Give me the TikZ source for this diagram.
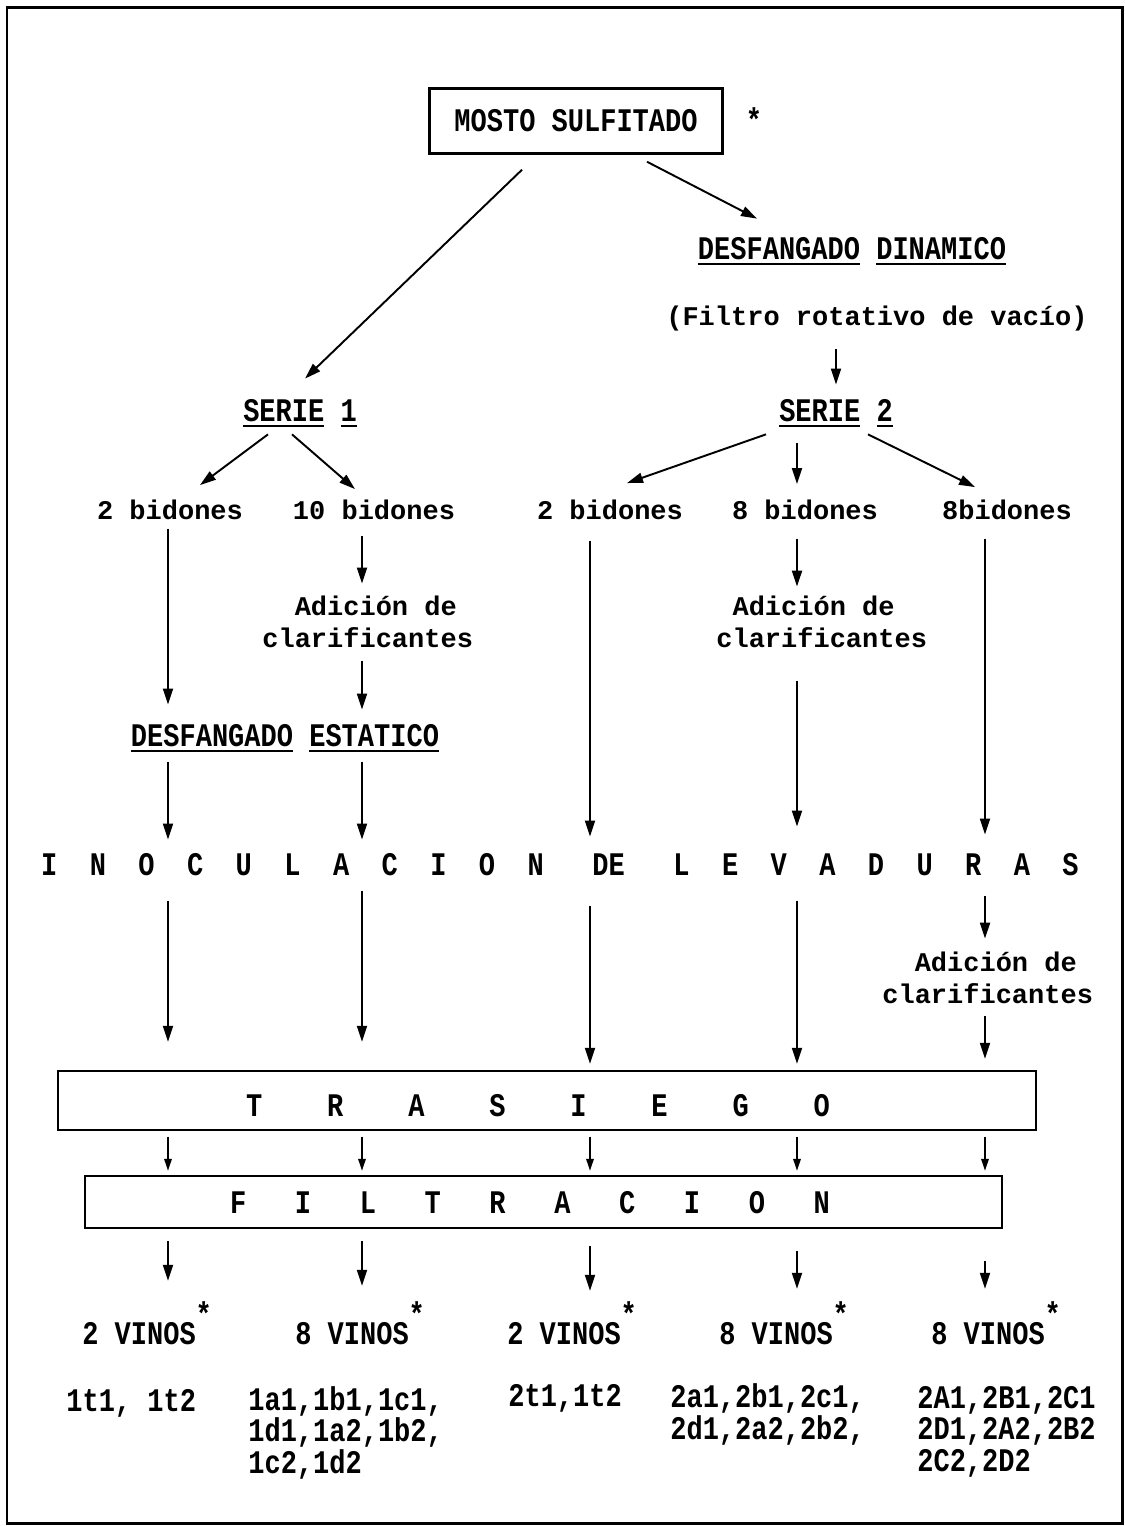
\documentclass[tikz,border=0pt]{standalone}
\usepackage{fontspec}
\usetikzlibrary{arrows.meta,calc}
% typewriter faces: a regular-width one for lowercase labels,
% a taller condensed one for headings and codes (same pitch)
\newfontfamily\widef{Liberation Mono}
\newfontfamily\condf{Liberation Mono}[Scale=1.22,FakeStretch=0.82]
\newlength\undlw
\newcommand\undl[1]{\settowidth\undlw{#1}\rlap{\rule[-0.11cm]{\undlw}{0.035cm}}#1}
\newcommand\starmark{\rlap{\raisebox{0.38cm}{*}}}
\begin{document}
\begin{tikzpicture}[x=0.02cm,y=-0.02cm]
\tikzset{
  wide/.style={inner sep=0pt, font=\widef\bfseries\fontsize{15.37pt}{17.9pt}\selectfont},
  capt/.style={inner sep=0pt, font=\condf\bfseries\fontsize{15.37pt}{17.8pt}\selectfont},
  boxn/.style={draw, line width=1.4pt, inner sep=0pt},
  arr/.style={-{Triangle[length=0.32cm,width=0.2cm]}, line width=1.1pt},
  arrsm/.style={-{Triangle[length=0.24cm,width=0.15cm]}, line width=1pt},
}
\useasboundingbox (0,0) rectangle (1125,1526);
\draw[line width=1.7pt] (7,7) rectangle (1122,1523);

% column positions of the vertical flows
\coordinate (k1) at (168,0);
\coordinate (k2) at (362,0);
\coordinate (k3) at (590,0);
\coordinate (k4) at (797,0);
\coordinate (k5) at (985,0);

% top of the scheme
\node[boxn, capt, minimum width=5.86cm, minimum height=1.3cm] (mosto) at (576,121) {MOSTO SULFITADO};
\node[capt, anchor=base] (ast) at (754,131) {*};
\node[capt, anchor=base] (desfD) at (852,259) {\undl{DESFANGADO} \undl{DINAMICO}};
\node[wide, anchor=base] (filtro) at (877,325) {(Filtro rotativo de vacío)};
\node[capt, anchor=base] (serie1) at (300,421) {\undl{SERIE} \undl{1}};
\node[capt, anchor=base] (serie2) at (836,421) {\undl{SERIE} \undl{2}};

% containers
\node[wide, anchor=base] (b11) at (170,519) {2 bidones};
\node[wide, anchor=base] (b12) at (374,519) {10 bidones};
\node[wide, anchor=base] (b21) at (610,519) {2 bidones};
\node[wide, anchor=base] (b22) at (805,519) {8 bidones};
\node[wide, anchor=base] (b23) at (1007,519) {8bidones};

% treatments (multi-line nodes are placed by the baseline of their last line)
\node[wide, anchor=base west, align=left] (ad1) at (262,647) {~~Adición de\\clarificantes};
\node[wide, anchor=base west, align=left] (ad2) at (716,647) {~Adición de\\clarificantes};
\node[capt, anchor=base] (desfE) at (285,746) {\undl{DESFANGADO} \undl{ESTATICO}};
\node[capt, anchor=base] (inoc) at (560,875) {I~~N~~O~~C~~U~~L~~A~~C~~I~~O~~N~~~DE~~~L~~E~~V~~A~~D~~U~~R~~A~~S};
\node[wide, anchor=base west, align=left] (ad3) at (882,1003) {~~Adición de\\clarificantes};

\node[boxn, minimum width=19.56cm, minimum height=1.18cm] (tras) at (547,1100.5) {};
\node[capt, anchor=base] (trast) at (538,1116) {T~~~~R~~~~A~~~~S~~~~I~~~~E~~~~G~~~~O};
\node[boxn, minimum width=18.34cm, minimum height=1.04cm] (filt) at (543.5,1202) {};
\node[capt, anchor=base] (filtt) at (530,1213) {F~~~I~~~L~~~T~~~R~~~A~~~C~~~I~~~O~~~N};

% resulting wines
\node[capt, anchor=base] (v1) at (139,1344) {2 VINOS\starmark};
\node[capt, anchor=base] (v2) at (352,1344) {8 VINOS\starmark};
\node[capt, anchor=base] (v3) at (564,1344) {2 VINOS\starmark};
\node[capt, anchor=base] (v4) at (776,1344) {8 VINOS\starmark};
\node[capt, anchor=base] (v5) at (988,1344) {8 VINOS\starmark};

\node[capt, anchor=base west, align=left] (c1) at (66,1411) {1t1, 1t2};
\node[capt, anchor=base west, align=left] (c2) at (248,1473) {1a1,1b1,1c1,\\1d1,1a2,1b2,\\1c2,1d2};
\node[capt, anchor=base west, align=left] (c3) at (508,1406) {2t1,1t2};
\node[capt, anchor=base west, align=left] (c4) at (670,1439) {2a1,2b1,2c1,\\2d1,2a2,2b2,};
\node[capt, anchor=base west, align=left] (c5) at (917,1471) {2A1,2B1,2C1\\2D1,2A2,2B2\\2C2,2D2};

% branching arrows
\draw[arr] ($(mosto.south)+(-54,15)$) -- ($(serie1.north)+(5,-20)$);
\draw[arr] ($(mosto.south)+(71,7)$) -- ($(desfD.north)+(-95,-18)$);
\draw[arr, shorten <=0.36cm, shorten >=0.28cm] (filtro.south -| serie2) -- (serie2.north);
\draw[arr] ($(serie1.south)+(-32,7.5)$) -- ($(b11.north)+(30,-14)$);
\draw[arr] ($(serie1.south)+(-8,7.5)$) -- ($(b12.north)+(-19,-10)$);
\draw[arr] ($(serie2.south)+(-70,7.5)$) -- ($(b21.north)+(17,-16)$);
\draw[arr] ($(serie2.south)+(-39,16.5)$) -- ($(b22.north)+(-8,-15)$);
\draw[arr] ($(serie2.south)+(32,7.5)$) -- ($(b23.north)+(-32,-12)$);

% down to the yeast inoculation
\draw[arr, shorten <=0.18cm, shorten >=0.38cm] (b11.south -| k1) -- (desfE.north -| k1);
\draw[arr, shorten <=0.32cm, shorten >=0.24cm] (b12.south -| k2) -- (ad1.north -| k2);
\draw[arr, shorten <=0.26cm, shorten >=0.28cm] (ad1.south -| k2) -- (desfE.north -| k2);
\draw[arr, shorten <=0.21cm, shorten >=0.26cm] (desfE.south -| k1) -- (inoc.north -| k1);
\draw[arr, shorten <=0.21cm, shorten >=0.26cm] (desfE.south -| k2) -- (inoc.north -| k2);
\draw[arr, shorten <=0.42cm, shorten >=0.32cm] (b21.south -| k3) -- (inoc.north -| k3);
\draw[arr, shorten <=0.38cm, shorten >=0.18cm] (b22.south -| k4) -- (ad2.north -| k4);
\draw[arr, shorten <=0.66cm, shorten >=0.52cm] (ad2.south -| k4) -- (inoc.north -| k4);
\draw[arr, shorten <=0.38cm, shorten >=0.36cm] (b23.south -| k5) -- (inoc.north -| k5);

% down to racking
\draw[arr, shorten <=0.5cm, shorten >=0.56cm] (inoc.south -| k1) -- (tras.north -| k1);
\draw[arr, shorten <=0.3cm, shorten >=0.56cm] (inoc.south -| k2) -- (tras.north -| k2);
\draw[arr, shorten <=0.6cm, shorten >=0.12cm] (inoc.south -| k3) -- (tras.north -| k3);
\draw[arr, shorten <=0.5cm, shorten >=0.12cm] (inoc.south -| k4) -- (tras.north -| k4);
\draw[arr, shorten <=0.4cm, shorten >=0.26cm] (inoc.south -| k5) -- (ad3.north -| k5);
\draw[arr, shorten <=0.24cm, shorten >=0.22cm] (ad3.south -| k5) -- (tras.north -| k5);

% racking to filtration
\foreach \k in {k1,k2,k3,k4,k5}
  \draw[arrsm, shorten <=0.11cm, shorten >=0.08cm] (tras.south -| \k) -- (filt.north -| \k);

% filtration to wines
\draw[arr, shorten <=0.24cm, shorten >=0.4cm] (filt.south -| k1) -- (v1.north -| k1);
\draw[arr, shorten <=0.24cm, shorten >=0.3cm] (filt.south -| k2) -- (v2.north -| k2);
\draw[arr, shorten <=0.34cm, shorten >=0.2cm] (filt.south -| k3) -- (v3.north -| k3);
\draw[arr, shorten <=0.44cm, shorten >=0.24cm] (filt.south -| k4) -- (v4.north -| k4);
\draw[arr, shorten <=0.64cm, shorten >=0.24cm] (filt.south -| k5) -- (v5.north -| k5);
\end{tikzpicture}
\end{document}
